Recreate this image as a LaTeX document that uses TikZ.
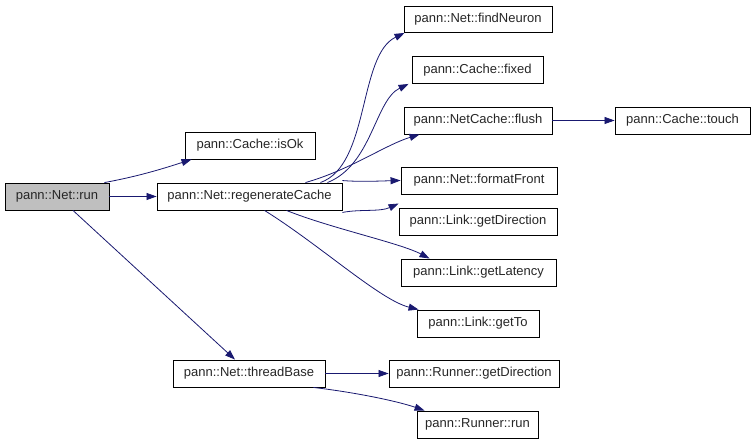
\documentclass[tikz,border=0pt]{standalone}
\usepackage{fontspec}
\setmainfont{Liberation Sans}
\usetikzlibrary{arrows.meta}
\definecolor{edgeblue}{HTML}{191970}
\definecolor{rootgray}{HTML}{BFBFBF}
\begin{document}
\begin{tikzpicture}[x=1pt,y=-1pt,
  fn/.style={draw=black, line width=0.9pt, minimum height=27, inner sep=0pt,
    font=\fontsize{13}{15}\selectfont, text=black!85},
  call/.style={draw=edgeblue, line width=0.8pt, -{Triangle[length=10pt,width=7pt]}, edgeblue}]
\useasboundingbox (0,0) rectangle (755,443);
\node[fn, fill=rootgray, minimum width=104] (run) at (57,196.5) {pann::Net::run};
\node[fn, minimum width=130] (isok) at (250,145.5) {pann::Cache::isOk};
\node[fn, minimum width=185] (regen) at (249.5,196.5) {pann::Net::regenerateCache};
\node[fn, minimum width=148, minimum height=26] (find) at (478,19.5) {pann::Net::findNeuron};
\node[fn, minimum width=131] (fixed) at (477.5,70) {pann::Cache::fixed};
\node[fn, minimum width=148] (flush) at (478,120.5) {pann::NetCache::flush};
\node[fn, minimum width=156] (front) at (479,180.5) {pann::Net::formatFront};
\node[fn, minimum width=158] (ldir) at (478,221.5) {pann::Link::getDirection};
\node[fn, minimum width=155] (lat) at (478.5,272.5) {pann::Link::getLatency};
\node[fn, minimum width=122] (getto) at (478,323.5) {pann::Link::getTo};
\node[fn, minimum width=135] (touch) at (682.5,120.5) {pann::Cache::touch};
\node[fn, minimum width=152] (thread) at (249,373.5) {pann::Net::threadBase};
\node[fn, minimum width=170] (rdir) at (474,373.5) {pann::Runner::getDirection};
\node[fn, minimum width=121] (rrun) at (477.5,424.5) {pann::Runner::run};

\draw[call] ([xshift=-5]run.north east) .. controls (140,176) and (165,168) .. ([xshift=7]isok.south west);
\draw[call] (run.east) -- (regen.west);
\draw[call] ([xshift=16]run.south) -- ([xshift=-14]thread.north);

\draw[call] ([xshift=-22]regen.north east) .. controls (370,165) and (358,55) .. ([xshift=1]find.south west);
\draw[call] ([xshift=-15]regen.north east) .. controls (372,165) and (375,100) .. ([xshift=-3]fixed.south west);
\draw[call] ([xshift=-37]regen.north east) .. controls (350,170) and (385,145) .. ([xshift=16]flush.south west);
\draw[call] ([yshift=2]regen.north east) .. controls (360,182) and (380,181) .. (front.west);
\draw[call] ([yshift=-2]regen.south east) .. controls (360,209) and (380,212) .. ([yshift=4]ldir.north west);
\draw[call] ([xshift=37]regen.south) .. controls (330,228) and (400,243) .. ([xshift=29]lat.north west);
\draw[call] ([xshift=15]regen.south) .. controls (320,245) and (380,300) .. ([xshift=2]getto.north west);

\draw[call] (flush.east) -- (touch.west);
\draw[call] (thread.east) -- (rdir.west);
\draw[call] ([xshift=-12]thread.south east) .. controls (360,393) and (400,402) .. ([xshift=8]rrun.north west);
\end{tikzpicture}
\end{document}
